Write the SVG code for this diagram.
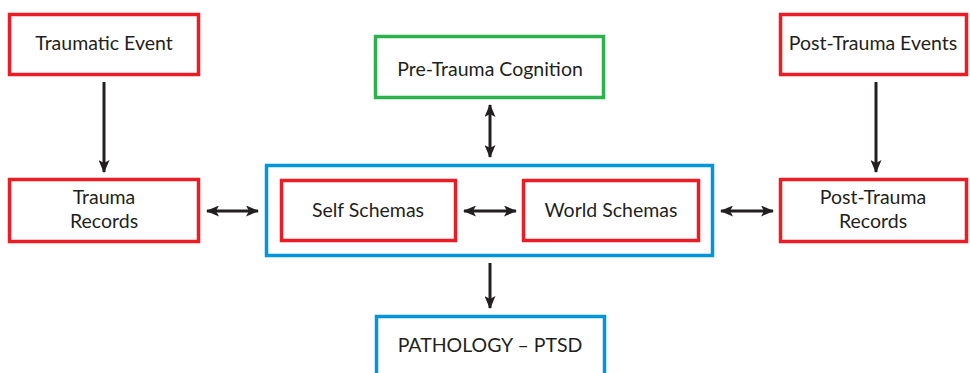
<svg xmlns="http://www.w3.org/2000/svg" width="970" height="373" viewBox="0 0 970 373">
<style>
.red{fill:#fff;stroke:#ED1C24;stroke-width:3.5}
.green{fill:#fff;stroke:#2BB24C;stroke-width:3.5}
.blue{fill:none;stroke:#0096DB;stroke-width:3.5}
.t{font-family:Lato,"Open Sans","Liberation Sans",sans-serif;font-size:19.5px;fill:#231F20;text-anchor:middle}
.c{stroke:#231F20;stroke-width:3;fill:none}
</style>
<defs>
<marker id="ah" viewBox="0 0 13 11" refX="12" refY="5.5" markerWidth="13" markerHeight="11" markerUnits="userSpaceOnUse" orient="auto-start-reverse">
<path d="M0,0 L13,5.5 L0,11 L3,5.5 Z" fill="#231F20"/>
</marker>
</defs>
<rect width="970" height="373" fill="#fff"/>
<g id="traumatic-event"><rect class="red" x="9.5" y="14.5" width="189" height="60"/><text class="t" x="104" y="50">Traumatic Event</text></g>
<g id="trauma-records"><rect class="red" x="9.5" y="179.5" width="189" height="62"/><text class="t" x="104" y="204">Trauma</text><text class="t" x="104" y="228">Records</text></g>
<g id="pre-trauma"><rect class="green" x="375.5" y="36.5" width="228" height="61"/><text class="t" x="490" y="76">Pre-Trauma Cognition</text></g>
<g id="schemas-group"><rect class="blue" x="266.5" y="165.5" width="446" height="90"/></g>
<g id="self-schemas"><rect class="red" x="281.5" y="180.5" width="174" height="60"/><text class="t" x="368" y="217">Self Schemas</text></g>
<g id="world-schemas"><rect class="red" x="523.5" y="180.5" width="175" height="60"/><text class="t" x="611" y="217">World Schemas</text></g>
<g id="post-trauma-events"><rect class="red" x="780.5" y="14.5" width="186" height="60"/><text class="t" x="873" y="50">Post-Trauma Events</text></g>
<g id="post-trauma-records"><rect class="red" x="780.5" y="179.5" width="186" height="62"/><text class="t" x="873" y="204">Post-Trauma</text><text class="t" x="873" y="228">Records</text></g>
<g id="pathology"><rect class="blue" x="376.5" y="316.5" width="228" height="70"/><text class="t" x="490" y="352">PATHOLOGY – PTSD</text></g>
<g id="connectors">
<line class="c" x1="104" y1="82" x2="104" y2="172" marker-end="url(#ah)"/>
<line class="c" x1="876" y1="82" x2="876" y2="172" marker-end="url(#ah)"/>
<line class="c" x1="207" y1="211" x2="258" y2="211" marker-start="url(#ah)" marker-end="url(#ah)"/>
<line class="c" x1="464" y1="211" x2="516" y2="211" marker-start="url(#ah)" marker-end="url(#ah)"/>
<line class="c" x1="721" y1="211" x2="773" y2="211" marker-start="url(#ah)" marker-end="url(#ah)"/>
<line class="c" x1="490" y1="105" x2="490" y2="157" marker-start="url(#ah)" marker-end="url(#ah)"/>
<line class="c" x1="490" y1="263" x2="490" y2="308" marker-end="url(#ah)"/>
</g>
</svg>
